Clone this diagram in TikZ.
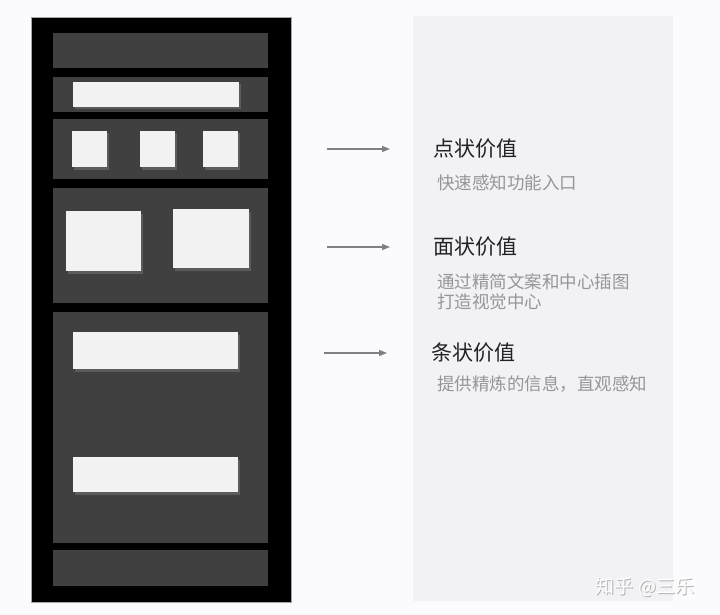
\documentclass[tikz,border=0pt]{standalone}
\usepackage{fontspec}
\setmainfont{Noto Sans CJK SC}
\usepackage{tikz}
\usetikzlibrary{arrows.meta,shadows,positioning}
\usepackage{xcolor}
\definecolor{pgbg}{RGB}{251,251,253}
\definecolor{pgpanel}{RGB}{242,242,246}
\definecolor{pgdark}{RGB}{64,64,64}
\definecolor{pgcard}{RGB}{242,242,242}
\definecolor{pgarrow}{RGB}{128,128,128}
\definecolor{pgtitle}{RGB}{34,34,34}
\definecolor{pgsub}{RGB}{150,150,150}
\tikzstyle{arr} = [line width=1.3pt,-{Triangle[length=8pt,width=6pt]},color=pgarrow]
\tikzstyle{section} = [rectangle, inner sep=0pt, minimum width=215pt, fill=pgdark]
\tikzstyle{card} = [rectangle, inner sep=0pt, fill=pgcard, drop shadow={shadow xshift=2pt, shadow yshift=-2.5pt, opacity=0.45}]
\tikzstyle{title} = [anchor=west, inner sep=0pt, font=\fontsize{21pt}{24pt}\selectfont, text=pgtitle]
\tikzstyle{desc} = [anchor=north west, inner sep=0pt, align=left, font=\fontsize{17.5pt}{20pt}\selectfont, text=pgsub]

\begin{document}
\begin{tikzpicture}[x=1pt, y=-1pt]
\fill[pgbg] (0,0) rectangle (720,615);
\useasboundingbox (0,0) rectangle (720,615);
% right panel
\node[rectangle, inner sep=0pt, minimum width=260pt, minimum height=585pt, fill=pgpanel] (panel) at (543,308.5) {};

% phone frame
\node[rectangle, inner sep=0pt, minimum width=260pt, minimum height=585pt, fill=black, draw=gray!70, line width=0.6pt] (phone) at (161,309.5) {};
\node[section, minimum height=35pt] (head) at (160.5,50.5) {};
\node[section, minimum height=35pt] (search) at (160.5,94.5) {};
\node[section, minimum height=60pt] (dots) at (160.5,149) {};
\node[section, minimum height=115pt] (faces) at (160.5,245.5) {};
\node[section, minimum height=231pt] (bars) at (160.5,427.5) {};
\node[section, minimum height=36pt] (foot) at (160.5,568) {};

% cards
\node[card, minimum width=166pt, minimum height=25pt] (searchbar) at (156,94.5) {};
\node[card, minimum width=35pt, minimum height=36pt] (dotA) at (89.5,149) {};
\node[card, minimum width=35pt, minimum height=36pt] (dotB) at (157.5,149) {};
\node[card, minimum width=35pt, minimum height=36pt] (dotC) at (220.5,149) {};
\node[card, minimum width=75pt, minimum height=60pt] (faceA) at (103.5,241) {};
\node[card, minimum width=76pt, minimum height=59pt] (faceB) at (211,238.5) {};
\node[card, minimum width=165pt, minimum height=37pt] (barA) at (155.5,350.5) {};
\node[card, minimum width=165pt, minimum height=35pt] (barB) at (155.5,474.5) {};

% labels
\node[title] (dotval) at (433,149) {点状价值};
\node[desc] (dotdesc) at (437,175) {快速感知功能入口};
\node[title] (faceval) at (433,247) {面状价值};
\node[desc] (facedesc) at (437,273) {通过精简文案和中心插图\\打造视觉中心};
\node[title] (barval) at (431,353) {条状价值};
\node[desc] (bardesc) at (437,375) {提供精炼的信息，直观感知};

% arrows
\coordinate (dotsrc) at (327,149);
\coordinate (facesrc) at (327,247);
\coordinate (barsrc) at (324,353);
\draw[arr, shorten >=43pt] (dotsrc) -- (dotval.west);
\draw[arr, shorten >=43pt] (facesrc) -- (faceval.west);
\draw[arr, shorten >=44pt] (barsrc) -- (barval.west);

% watermark
\node[font=\fontsize{19pt}{22pt}\selectfont, text=gray!60] (markshade) at (646,588) {知乎 @三乐};
\node[font=\fontsize{19pt}{22pt}\selectfont, text=white] (mark) at (645,587) {知乎 @三乐};
\end{tikzpicture}
\end{document}
